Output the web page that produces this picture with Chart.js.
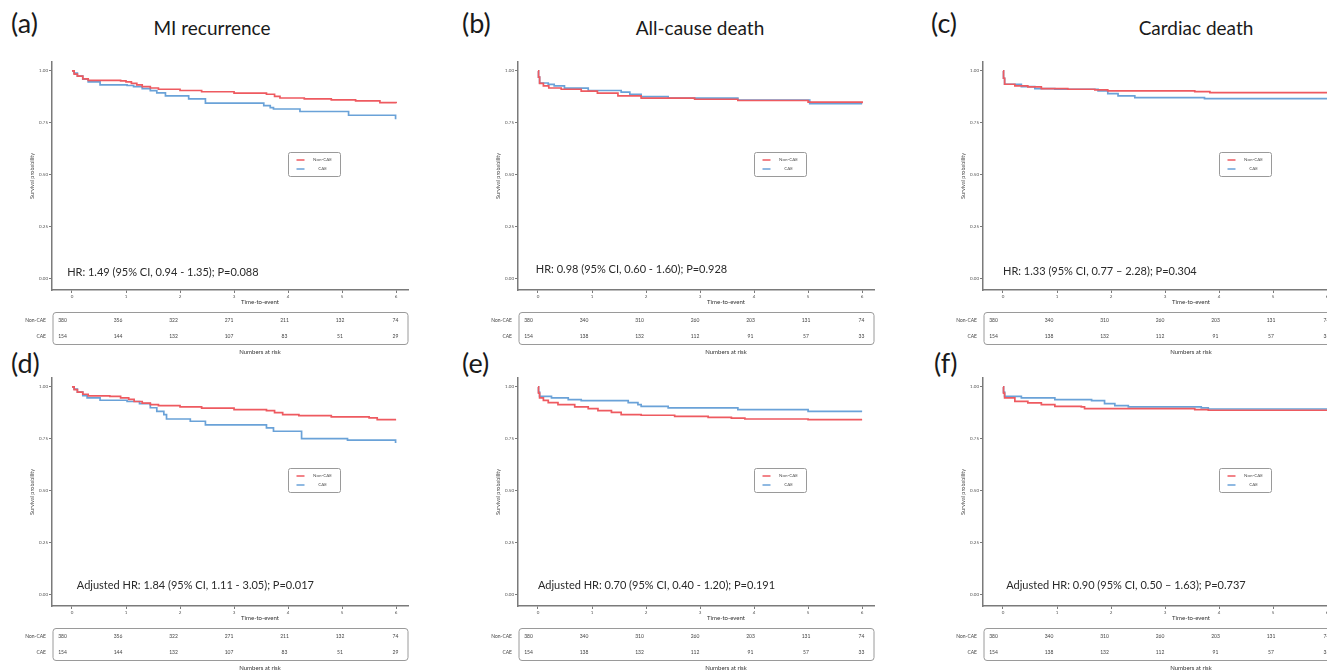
<!DOCTYPE html>
<html><head><meta charset="utf-8">
<script src="https://cdn.jsdelivr.net/npm/chart.js@4.4.1/dist/chart.umd.min.js"></script>
<style>
html,body{margin:0;padding:0;background:#fff;overflow:hidden;width:1327px;height:671px;position:relative;}
.pc{position:absolute;width:440px;height:360px;}
.lbl{position:absolute;font-family:Lato,sans-serif;color:#1a1a1a;white-space:nowrap;line-height:1;}
.plab{font-size:27px;}
.ttl{font-size:19px;transform:translateX(-50%);}
</style></head><body>
<div class="lbl plab" style="left:11px;top:9px">(a)</div>
<div class="lbl plab" style="left:462px;top:9px">(b)</div>
<div class="lbl plab" style="left:931px;top:9px">(c)</div>
<div class="lbl plab" style="left:11px;top:349px">(d)</div>
<div class="lbl plab" style="left:462px;top:349px">(e)</div>
<div class="lbl plab" style="left:934px;top:349px">(f)</div>
<div class="lbl ttl" style="left:212px;top:18px">MI recurrence</div>
<div class="lbl ttl" style="left:700px;top:18px">All-cause death</div>
<div class="lbl ttl" style="left:1196px;top:18px">Cardiac death</div>
<canvas id="ca" class="pc" style="left:0px;top:0px"></canvas>
<canvas id="cb" class="pc" style="left:466px;top:0px"></canvas>
<canvas id="cc" class="pc" style="left:931px;top:0px"></canvas>
<canvas id="cd" class="pc" style="left:0px;top:316px"></canvas>
<canvas id="ce" class="pc" style="left:466px;top:316px"></canvas>
<canvas id="cf" class="pc" style="left:931px;top:316px"></canvas>
<script>
// ---- Data (Kaplan-Meier step points: time in years, survival probability) ----
const groups = ['Non-CAE', 'CAE'];
const xTicks = [0, 1, 2, 3, 4, 5, 6];

// (a) MI recurrence
const aNonT = [0, 0.04, 0.1, 0.2, 0.3, 0.9, 1.0, 1.1, 1.2, 1.3, 1.45, 1.6, 2.0, 2.4, 3.0, 3.6, 3.75, 3.85, 4.3, 4.8, 5.25, 5.7, 6.0];
const aNonS = [1.0, 0.985, 0.975, 0.962, 0.955, 0.952, 0.947, 0.94, 0.933, 0.925, 0.918, 0.912, 0.906, 0.9, 0.893, 0.888, 0.878, 0.87, 0.866, 0.861, 0.856, 0.848, 0.845];
const aCaeT = [0, 0.04, 0.1, 0.2, 0.3, 0.52, 1.02, 1.14, 1.3, 1.45, 1.57, 1.73, 2.16, 2.47, 3.55, 3.67, 3.73, 4.22, 5.12, 5.99];
const aCaeS = [1.0, 0.99, 0.975, 0.96, 0.947, 0.933, 0.93, 0.925, 0.915, 0.905, 0.895, 0.88, 0.866, 0.845, 0.833, 0.824, 0.817, 0.805, 0.787, 0.768];

// (b) All-cause death
const bNonT = [0, 0.01, 0.03, 0.1, 0.2, 0.43, 0.8, 1.1, 1.48, 1.91, 2.9, 3.7, 5.0, 6.0];
const bNonS = [1.0, 0.97, 0.94, 0.928, 0.918, 0.912, 0.903, 0.893, 0.88, 0.869, 0.864, 0.858, 0.85, 0.845];
const bCaeT = [0, 0.01, 0.03, 0.19, 0.3, 0.49, 0.93, 1.54, 1.7, 1.91, 2.41, 3.7, 5.03, 6.0];
const bCaeS = [1.0, 0.97, 0.942, 0.935, 0.928, 0.917, 0.906, 0.898, 0.888, 0.877, 0.869, 0.86, 0.843, 0.843];

// (c) Cardiac death
const cNonT = [0, 0.01, 0.03, 0.22, 0.46, 0.71, 1.2, 1.7, 1.94, 3.55, 3.83, 6.0];
const cNonS = [1.0, 0.965, 0.936, 0.928, 0.923, 0.915, 0.912, 0.909, 0.904, 0.901, 0.896, 0.896];
const cCaeT = [0, 0.01, 0.03, 0.34, 0.59, 0.96, 1.76, 1.94, 2.13, 2.44, 3.73, 6.0];
const cCaeS = [1.0, 0.965, 0.936, 0.925, 0.915, 0.912, 0.904, 0.891, 0.88, 0.872, 0.867, 0.867];

// (d) MI recurrence, adjusted
const dNonT = [0, 0.04, 0.1, 0.2, 0.3, 0.7, 0.9, 1.05, 1.15, 1.3, 1.45, 1.6, 2.0, 2.4, 3.0, 3.6, 3.75, 3.9, 4.2, 4.8, 5.5, 5.65, 6.0];
const dNonS = [1.0, 0.987, 0.975, 0.965, 0.957, 0.955, 0.947, 0.94, 0.93, 0.922, 0.915, 0.91, 0.904, 0.898, 0.891, 0.886, 0.877, 0.867, 0.862, 0.856, 0.851, 0.843, 0.843];
const dCaeT = [0, 0.04, 0.1, 0.2, 0.28, 0.52, 1.02, 1.25, 1.45, 1.57, 1.7, 1.75, 2.19, 2.47, 3.6, 3.73, 4.25, 5.1, 5.99];
const dCaeS = [1.0, 0.99, 0.975, 0.958, 0.947, 0.936, 0.93, 0.92, 0.9, 0.883, 0.867, 0.846, 0.835, 0.818, 0.803, 0.787, 0.752, 0.744, 0.731];

// (e) All-cause death, adjusted
const eNonT = [0, 0.01, 0.03, 0.1, 0.19, 0.37, 0.68, 0.93, 1.11, 1.36, 1.54, 1.91, 2.53, 3.15, 3.58, 3.83, 5.0, 6.0];
const eNonS = [1.0, 0.97, 0.947, 0.935, 0.925, 0.915, 0.904, 0.896, 0.886, 0.878, 0.867, 0.864, 0.859, 0.854, 0.85, 0.846, 0.843, 0.843];
const eCaeT = [0, 0.01, 0.03, 0.25, 0.56, 0.8, 1.67, 1.85, 1.91, 2.41, 3.7, 5.0, 6.0];
const eCaeS = [1.0, 0.975, 0.955, 0.947, 0.939, 0.934, 0.925, 0.915, 0.907, 0.899, 0.891, 0.883, 0.883];

// (f) Cardiac death, adjusted
const fNonT = [0, 0.01, 0.03, 0.22, 0.46, 0.71, 0.96, 1.45, 1.51, 3.55, 3.8, 6.0];
const fNonS = [1.0, 0.97, 0.947, 0.931, 0.923, 0.915, 0.907, 0.904, 0.896, 0.891, 0.888, 0.888];
const fCaeT = [0, 0.01, 0.03, 0.34, 0.96, 1.64, 1.88, 2.07, 2.32, 3.67, 3.8, 6.0];
const fCaeS = [1.0, 0.975, 0.955, 0.947, 0.939, 0.934, 0.92, 0.91, 0.904, 0.899, 0.894, 0.894];

// Numbers at risk
const riskNonMI = [380, 356, 322, 271, 211, 132, 74];
const riskCaeMI = [154, 144, 132, 107, 83, 51, 29];
const riskNonDeath = [380, 340, 310, 260, 203, 131, 74];
const riskCaeDeath = [154, 138, 132, 112, 91, 57, 33];

// HR annotations
const hrA = 'HR: 1.49 (95% CI, 0.94 - 1.35); P=0.088';
const hrB = 'HR: 0.98 (95% CI, 0.60 - 1.60); P=0.928';
const hrC = 'HR: 1.33 (95% CI, 0.77 \u2013 2.28); P=0.304';
const hrD = 'Adjusted HR: 1.84 (95% CI, 1.11 - 3.05); P=0.017';
const hrE = 'Adjusted HR: 0.70 (95% CI, 0.40 - 1.20); P=0.191';
const hrF = 'Adjusted HR: 0.90 (95% CI, 0.50 \u2013 1.63); P=0.737';

// ---- Styling ----
const RED = '#EE5A60';
const BLUE = '#6AA2D8';
const AXIS = '#7a7a7a';
const FONT = 'Lato, sans-serif';

function rrect(ctx, x, y, w, h, r) {
  ctx.beginPath();
  ctx.moveTo(x + r, y);
  ctx.lineTo(x + w - r, y); ctx.quadraticCurveTo(x + w, y, x + w, y + r);
  ctx.lineTo(x + w, y + h - r); ctx.quadraticCurveTo(x + w, y + h, x + w - r, y + h);
  ctx.lineTo(x + r, y + h); ctx.quadraticCurveTo(x, y + h, x, y + h - r);
  ctx.lineTo(x, y + r); ctx.quadraticCurveTo(x, y, x + r, y);
  ctx.closePath();
}

const kmExtras = {
  id: 'kmExtras',
  afterDraw(chart, args, o) {
    const {ctx, chartArea: ca, scales: {x, y}} = chart;
    ctx.save();
    // HR annotation
    ctx.font = '11px ' + FONT;
    ctx.fillStyle = '#2a2a2a';
    ctx.textAlign = 'left';
    ctx.textBaseline = 'middle';
    ctx.fillText(o.hr, x.getPixelForValue(o.hrPos[0]), y.getPixelForValue(o.hrPos[1]));
    // Legend box
    const lx = Math.round(x.getPixelForValue(4.0)) + 0.5;
    const ly = Math.round(y.getPixelForValue(0.61)) + 0.5;
    const lw = 52, lh = 24;
    rrect(ctx, lx, ly, lw, lh, 2);
    ctx.fillStyle = '#fff'; ctx.fill();
    ctx.strokeStyle = '#9a9a9a'; ctx.lineWidth = 1; ctx.stroke();
    chart.data.datasets.forEach((ds, i) => {
      const yy = ly + 7.5 + i * 9;
      ctx.strokeStyle = ds.borderColor; ctx.lineWidth = 1.5;
      ctx.beginPath(); ctx.moveTo(lx + 8, yy); ctx.lineTo(lx + 16, yy); ctx.stroke();
      ctx.fillStyle = '#555'; ctx.font = '4.5px ' + FONT; ctx.textAlign = 'center';
      ctx.fillText(ds.label, lx + 34, yy);
    });
    // x-axis title
    const cx = (ca.left + ca.right) / 2 + 30;
    ctx.fillStyle = '#333';
    ctx.font = '6px ' + FONT;
    ctx.textAlign = 'center';
    ctx.fillText('Time-to-event', cx, ca.bottom + 12.5);
    // Risk table
    const tTop = Math.round(ca.bottom + 22) + 0.5;
    rrect(ctx, ca.left + 1, tTop, ca.right - ca.left - 1, 32, 3);
    ctx.strokeStyle = '#9a9a9a'; ctx.lineWidth = 1; ctx.stroke();
    const c0 = ca.left + 10.5, c1 = ca.right - 12.5;
    ctx.font = '5px ' + FONT; ctx.fillStyle = '#444';
    [o.riskNon, o.riskCae].forEach((row, r) => {
      const ry = ca.bottom + 30.5 + r * 16;
      ctx.textAlign = 'center';
      row.forEach((v, i) => {
        ctx.fillText(String(v), c0 + (c1 - c0) * i / (row.length - 1), ry);
      });
      ctx.textAlign = 'right';
      ctx.fillText(groups[r], ca.left - 6, ry);
    });
    ctx.font = '6px ' + FONT; ctx.fillStyle = '#333'; ctx.textAlign = 'center';
    ctx.fillText('Numbers at risk', cx, ca.bottom + 62);
    ctx.restore();
  }
};

function pts(ts, ss) { return ts.map((t, i) => ({x: t, y: ss[i]})); }

function makePanel(id, nonT, nonS, caeT, caeS, hr, hrPos, riskNon, riskCae) {
  new Chart(document.getElementById(id), {
    type: 'line',
    data: {
      datasets: [
        {label: groups[0], data: pts(nonT, nonS), borderColor: RED, backgroundColor: RED},
        {label: groups[1], data: pts(caeT, caeS), borderColor: BLUE, backgroundColor: BLUE}
      ]
    },
    options: {
      responsive: false,
      animation: false,
      devicePixelRatio: 1,
      datasets: {line: {stepped: true, pointRadius: 0, borderWidth: 1.7, fill: false, tension: 0}},
      layout: {padding: {left: 26, top: 62, right: 32, bottom: 54}},
      plugins: {
        legend: {display: false},
        tooltip: {enabled: false},
        title: {display: false},
        kmExtras: {hr, hrPos, riskNon, riskCae}
      },
      scales: {
        x: {
          type: 'linear', min: -0.37, max: 6.22,
          afterFit: s => { s.height = 16; },
          ticks: {stepSize: 1, includeBounds: false, autoSkip: false, maxRotation: 0, padding: 1,
                  font: {size: 4.5, family: FONT}, color: '#555',
                  callback: v => xTicks.includes(v) ? String(v) : ''},
          grid: {display: true, drawOnChartArea: false, drawTicks: true, tickLength: 3, color: AXIS, lineWidth: 1},
          border: {display: true, color: AXIS, width: 1.5},
          title: {display: false}
        },
        y: {
          type: 'linear', min: -0.053, max: 1.043,
          afterFit: s => { s.width = 26; },
          ticks: {stepSize: 0.25, includeBounds: false, padding: 1,
                  font: {size: 4.5, family: FONT}, color: '#555',
                  callback: v => Number(v).toFixed(2)},
          grid: {display: true, drawOnChartArea: false, drawTicks: true, tickLength: 3, color: AXIS, lineWidth: 1},
          border: {display: true, color: AXIS, width: 1.5},
          title: {display: true, text: 'Survival probability', font: {size: 5.5, family: FONT}, color: '#444', padding: {top: 3, bottom: 0}}
        }
      }
    },
    plugins: [kmExtras]
  });
}

[...document.querySelectorAll('canvas')].forEach(c => { c.width = 440; c.height = 360; });

makePanel('ca', aNonT, aNonS, aCaeT, aCaeS, hrA, [-0.09, 0.03], riskNonMI, riskCaeMI);
makePanel('cb', bNonT, bNonS, bCaeT, bCaeS, hrB, [-0.04, 0.045], riskNonDeath, riskCaeDeath);
makePanel('cc', cNonT, cNonS, cCaeT, cCaeS, hrC, [0.0, 0.035], riskNonDeath, riskCaeDeath);
makePanel('cd', dNonT, dNonS, dCaeT, dCaeS, hrD, [0.09, 0.048], riskNonMI, riskCaeMI);
makePanel('ce', eNonT, eNonS, eCaeT, eCaeS, hrE, [0.0, 0.048], riskNonDeath, riskCaeDeath);
makePanel('cf', fNonT, fNonS, fCaeT, fCaeS, hrF, [0.06, 0.048], riskNonDeath, riskCaeDeath);
</script>
</body></html>
